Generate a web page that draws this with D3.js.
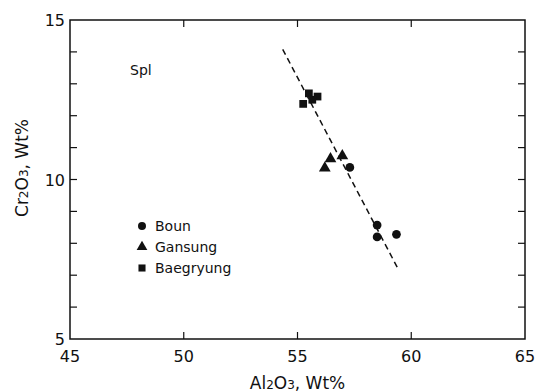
<!DOCTYPE html>
<html>
<head>
<meta charset="utf-8">
<script src="https://cdn.jsdelivr.net/npm/d3@7"></script>
<style>
    body { margin: 0; background: #fff; }
    text { font-family: "DejaVu Sans", sans-serif; fill: #111; }
</style>
</head>
<body>
<script>
var WIDTH = 538,
    HEIGHT = 392,
    LEFT = 70, RIGHT = 525, TOP = 20, BOTTOM = 339;

// data (Al2O3, Cr2O3 wt%)
var boun = [[57.3, 10.38], [58.5, 8.57], [58.5, 8.2], [59.35, 8.28]];
var gansung = [[56.2, 10.36], [56.45, 10.65], [56.97, 10.74]];
var baegryung = [[55.25, 12.37], [55.5, 12.7], [55.88, 12.6], [55.65, 12.5]];
var trendLine = [[54.35, 14.08], [59.42, 7.2]];
var xTicks = [45, 50, 55, 60, 65];
var yTicks = [5, 10, 15];
var yMinorTicks = d3.range(6, 15);
var legendNames = ['Boun', 'Gansung', 'Baegryung'];

var x = d3.scaleLinear().domain([45, 65]).range([LEFT, RIGHT]);
var y = d3.scaleLinear().domain([5, 15]).range([BOTTOM, TOP]);

var svg = d3.select('body').append('svg')
    .attr('width', WIDTH)
    .attr('height', HEIGHT);

// frame
svg.append('rect')
    .attr('x', LEFT).attr('y', TOP)
    .attr('width', RIGHT - LEFT).attr('height', BOTTOM - TOP)
    .attr('fill', 'none').attr('stroke', '#111').attr('stroke-width', 1.5);

// inner ticks
var inner = xTicks.slice(1, -1);
svg.append('g').selectAll('line').data(inner).enter().append('line')
    .attr('x1', d => x(d)).attr('x2', d => x(d))
    .attr('y1', BOTTOM).attr('y2', BOTTOM - 7)
    .attr('stroke', '#111').attr('stroke-width', 1.2);
svg.append('g').selectAll('line').data(inner).enter().append('line')
    .attr('x1', d => x(d)).attr('x2', d => x(d))
    .attr('y1', TOP).attr('y2', TOP + 7)
    .attr('stroke', '#111').attr('stroke-width', 1.2);
svg.append('g').selectAll('line').data(yMinorTicks).enter().append('line')
    .attr('x1', LEFT).attr('x2', LEFT + 7)
    .attr('y1', d => y(d)).attr('y2', d => y(d))
    .attr('stroke', '#111').attr('stroke-width', 1.2);
svg.append('g').selectAll('line').data(yMinorTicks).enter().append('line')
    .attr('x1', RIGHT).attr('x2', RIGHT - 7)
    .attr('y1', d => y(d)).attr('y2', d => y(d))
    .attr('stroke', '#111').attr('stroke-width', 1.2);

// tick labels
svg.append('g').selectAll('text').data(xTicks).enter().append('text')
    .attr('x', d => x(d)).attr('y', BOTTOM + 23)
    .attr('text-anchor', 'middle').attr('font-size', 16)
    .text(d => d);
svg.append('g').selectAll('text').data(yTicks).enter().append('text')
    .attr('x', LEFT - 5).attr('y', d => y(d) + 6)
    .attr('text-anchor', 'end').attr('font-size', 16)
    .text(d => d);

// axis titles
function oxide(el, a, b, c, d) {
    el.append('tspan').text(a);
    el.append('tspan').attr('font-size', 12).text(b);
    el.append('tspan').text(c);
    el.append('tspan').attr('font-size', 12).text(d);
    el.append('tspan').text(', Wt%');
}
var xt = svg.append('text')
    .attr('x', (LEFT + RIGHT) / 2).attr('y', 389)
    .attr('text-anchor', 'middle').attr('font-size', 17);
oxide(xt, 'Al', '2', 'O', '3');
var yt = svg.append('text')
    .attr('transform', 'translate(28,168) rotate(-90)')
    .attr('text-anchor', 'middle').attr('font-size', 17);
oxide(yt, 'Cr', '2', 'O', '3');

svg.append('text').attr('x', 130).attr('y', 75).attr('font-size', 14).text('Spl');

// trend line
svg.append('path')
    .attr('d', d3.line().x(d => x(d[0])).y(d => y(d[1]))(trendLine))
    .attr('fill', 'none').attr('stroke', '#111').attr('stroke-width', 1.5)
    .attr('stroke-dasharray', '6,4');

var symbols = [d3.symbolCircle, d3.symbolTriangle, d3.symbolSquare];
var series = [boun, gansung, baegryung];

series.forEach(function(pts, i) {
    svg.append('g').selectAll('path').data(pts).enter().append('path')
        .attr('transform', d => 'translate(' + x(d[0]) + ',' + y(d[1]) + ')')
        .attr('d', d3.symbol().type(symbols[i]).size(60))
        .attr('fill', '#111');
});

// legend
var legend = svg.append('g').selectAll('g').data(legendNames).enter().append('g')
    .attr('transform', (d, i) => 'translate(142,' + (226 + i * 21) + ')');
legend.append('path')
    .attr('d', (d, i) => d3.symbol().type(symbols[i]).size(50)())
    .attr('fill', '#111');
legend.append('text')
    .attr('x', 13).attr('y', 5).attr('font-size', 14)
    .text(d => d);
</script>
</body>
</html>
